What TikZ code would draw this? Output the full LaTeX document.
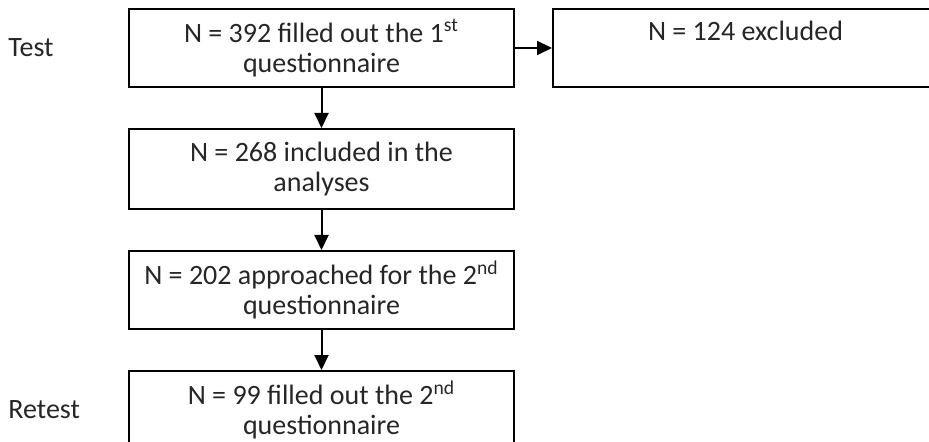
\documentclass[tikz,border=0pt]{standalone}
\usepackage{fontspec}
\setmainfont{Carlito}
\usetikzlibrary{positioning,arrows.meta}
\begin{document}
\begin{tikzpicture}[%
            mybox/.style={draw, line width=1pt, minimum width=192.5pt, minimum height=39pt,
                align=center, inner sep=2pt, text=black!85, font=\fontsize{14}{15}\selectfont},
            mylabel/.style={anchor=west, inner sep=0pt, text=black!85, font=\fontsize{14}{15}\selectfont},
            myarrow/.style={-{Triangle[length=7.5pt,width=7pt]}, line width=1pt},
            node distance=20pt
    ]
        \useasboundingbox (0,0) rectangle (464.5pt,-221pt);
        \clip (0,0) rectangle (464.5pt,-221pt);

        \node [mybox] (filled1) at (160.75pt,-24pt) {N = 392 filled out the 1\textsuperscript{st}\\questionnaire};
        \node [mybox, right=18.5pt of filled1] (excluded) {N = 124 excluded\\\phantom{q}};
        \node [mybox, below=of filled1, minimum height=40pt] (included) {N = 268 included in the\\analyses};
        \node [mybox, below=of included] (approached) {N = 202 approached for the 2\textsuperscript{nd}\\questionnaire};
        \node [mybox, below=of approached] (filled2) {N = 99 filled out the 2\textsuperscript{nd}\\questionnaire};

        \node [mylabel] (test) at (4pt,0 |- filled1) {Test};
        \node [mylabel] (retest) at (4pt,0 |- filled2) {Retest};

        \draw [myarrow] (filled1) -- (excluded);
        \draw [myarrow] (filled1) -- (included);
        \draw [myarrow] (included) -- (approached);
        \draw [myarrow] (approached) -- (filled2);
    \end{tikzpicture}
\end{document}
